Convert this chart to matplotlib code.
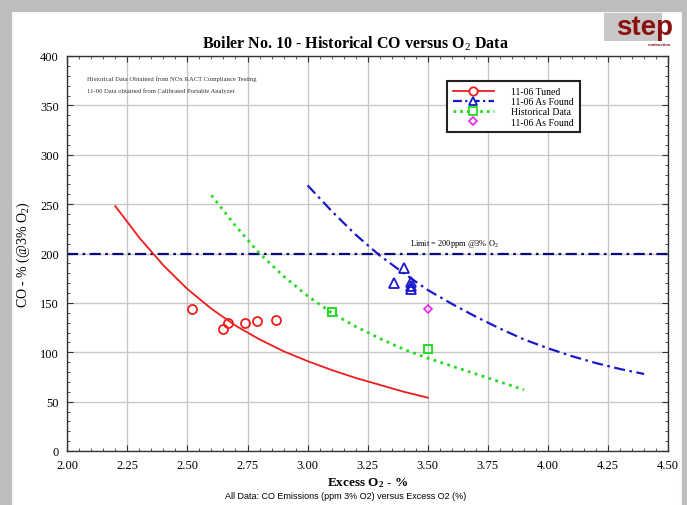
import numpy as np
import matplotlib.pyplot as plt
from matplotlib.patches import Rectangle
from matplotlib.ticker import MultipleLocator

# -----------------------------
# Data
# -----------------------------
tuned_x = [2.52, 2.65, 2.67, 2.74, 2.79, 2.87]
tuned_y = [144, 124, 130, 130, 132, 133]

tuned_fit_x = [2.2, 2.3, 2.4, 2.5, 2.6, 2.7, 2.8, 2.9, 3.0, 3.1, 3.2, 3.3, 3.4, 3.5]
tuned_fit_y = [248, 216, 188, 164, 144, 127, 113, 101, 91, 82, 74, 67, 60, 54]

found_x = [3.36, 3.40, 3.43, 3.43, 3.43]
found_y = [170, 185, 171, 167, 164]

found_fit_x = [3.0, 3.1, 3.2, 3.3, 3.4, 3.5, 3.6, 3.7, 3.8, 3.9, 4.0, 4.1, 4.2, 4.3, 4.4]
found_fit_y = [269, 243, 219, 198, 180, 163, 149, 136, 124, 113, 104, 96, 89, 83, 78]

hist_x = [3.10, 3.50]
hist_y = [141, 103]

hist_fit_x = [2.6, 2.7, 2.8, 2.9, 3.0, 3.1, 3.2, 3.3, 3.4, 3.5, 3.6, 3.7, 3.8, 3.9]
hist_fit_y = [259, 228, 200, 177, 157, 140, 126, 114, 103, 94, 86, 78, 70, 62]

found2_x = [3.50]
found2_y = [144]

LIMIT = 200

SERIF = 'Liberation Serif'

plt.rcParams['mathtext.fontset'] = 'custom'
plt.rcParams['mathtext.rm'] = SERIF
plt.rcParams['mathtext.it'] = SERIF + ':italic'
plt.rcParams['mathtext.bf'] = SERIF + ':bold'

# -----------------------------
# Figure + Schatten-Rahmen
# -----------------------------
fig = plt.figure(figsize=(6.87, 5.06), dpi=100)
fig.patch.set_facecolor('#bdbdbd')
W, H = 687.0, 506.0
for k, a in enumerate([0.25, 0.45, 0.65, 0.85]):
    d = 4 - k
    fig.patches.append(Rectangle(((11 + d) / W, 0), (672 - 2 * d) / W, (494 - d) / H,
                                 transform=fig.transFigure, facecolor='white',
                                 edgecolor='none', alpha=a, zorder=-2))
fig.patches.append(Rectangle((16 / W, 0), 662 / W, 489 / H, transform=fig.transFigure,
                             facecolor='white', edgecolor='none', zorder=-2))

ax = fig.add_axes([67.2 / W, 1 - 452 / H, 601 / W, 395 / H])
ax.set_zorder(1)
ax.set_facecolor('white')

# Kurven
ax.plot(tuned_fit_x, tuned_fit_y, color='#ee1c1c', lw=1.3, zorder=3)
ax.plot(found_fit_x, found_fit_y, color='#1a1acc', lw=1.6, zorder=3,
        dashes=(5, 2, 1.2, 2))
ax.plot(hist_fit_x, hist_fit_y, color='#22dd22', lw=2.0, zorder=3,
        linestyle=(0, (1, 1.6)))

# Messpunkte
ax.plot(tuned_x, tuned_y, 'o', mfc='none', mec='#ee1c1c', ms=6.5, mew=1.3, zorder=4)
ax.plot(found_x, found_y, '^', mfc='none', mec='#1a1acc', ms=6.5, mew=1.3, zorder=4)
ax.plot(hist_x, hist_y, 's', mfc='none', mec='#22dd22', ms=6, mew=1.4, zorder=4)
ax.plot(found2_x, found2_y, 'D', mfc='none', mec='#ee22ee', ms=4, mew=1.2, zorder=4)

# Limit
ax.axhline(LIMIT, color='#0a0a80', lw=1.6, dashes=(5, 2, 1.2, 2), zorder=2)
ax.text(3.61, LIMIT + 5, 'Limit = 200ppm @3% O$_2$', fontsize=6, family=SERIF,
        ha='center', va='bottom')

# Legende (Handles ohne Daten)
h1, = ax.plot([], [], color='#ee1c1c', lw=1.3, marker='o', mfc='white', mec='#ee1c1c',
              ms=6, mew=1.3)
h2, = ax.plot([], [], color='#1a1acc', lw=1.6, dashes=(4, 1.5, 1, 1.5), marker='^',
              mfc='white', mec='#1a1acc', ms=6, mew=1.3)
h3, = ax.plot([], [], color='#22dd22', lw=2.0, linestyle=(0, (1, 1.4)), marker='s',
              mfc='white', mec='#22dd22', ms=6, mew=1.3)
h4, = ax.plot([], [], linestyle='none', marker='D', mfc='white', mec='#ee22ee',
              ms=4, mew=1.2)
leg = ax.legend([h1, h2, h3, h4],
                ['11-06 Tuned', '11-06 As Found', 'Historical Data', '11-06 As Found'],
                loc='upper left', bbox_to_anchor=(0.632, 0.936), frameon=True,
                fancybox=False, prop={'family': SERIF, 'size': 7},
                handlelength=4.2, handletextpad=1.8, labelspacing=0.12,
                borderpad=0.6, borderaxespad=0, framealpha=1)
leg.get_frame().set_edgecolor('#222222')
leg.get_frame().set_linewidth(1.5)

# Notizen oben links
ax.text(0.033, 0.952, 'Historical Data Obtained from NOx RACT Compliance Testing',
        transform=ax.transAxes, fontsize=4.8, family=SERIF, color='#333333', va='top')
ax.text(0.033, 0.920, '11-06 Data obtained from Calibrated Portable Analyzer',
        transform=ax.transAxes, fontsize=4.8, family=SERIF, color='#333333', va='top')

# Achsen
ax.set_xlim(2.0, 4.5)
ax.set_ylim(0, 400)
ax.xaxis.set_major_locator(MultipleLocator(0.25))
ax.xaxis.set_minor_locator(MultipleLocator(0.05))
ax.yaxis.set_major_locator(MultipleLocator(50))
ax.yaxis.set_minor_locator(MultipleLocator(10))
ax.xaxis.set_major_formatter(plt.FuncFormatter(lambda v, p: f'{v:.2f}'))
ax.grid(True, which='major', color='#c8c8c8', lw=1.0, zorder=0)
ax.set_axisbelow(True)
ax.tick_params(which='both', direction='in', top=True, right=True, colors='#333333',
               labelsize=9, labelcolor='black')
ax.tick_params(which='major', length=4, width=0.8, pad=6)
ax.tick_params(which='minor', length=2, width=0.6)
for lab in ax.get_xticklabels() + ax.get_yticklabels():
    lab.set_family(SERIF)
for s in ax.spines.values():
    s.set_linewidth(1.0)
    s.set_color('#333333')

ax.set_title('Boiler No. 10 - Historical CO versus O$_2$ Data', family=SERIF,
             fontsize=11.5, fontweight='bold', pad=6, x=0.48)
ax.set_xlabel(r'Excess O$_\mathbf{2}$ - %', family=SERIF, fontsize=9.5,
              fontweight='bold', labelpad=3)
ax.set_ylabel('CO - % (@3% O$_2$)', family=SERIF, fontsize=10, labelpad=6)

fig.text(0.503, 1 - 497 / H, 'All Data: CO Emissions (ppm 3% O2) versus Excess O2 (%)',
         family='Liberation Sans', fontsize=6.5, ha='center', va='center')

# Logo
fig.patches.append(Rectangle((604 / W, 1 - 42 / H), 58 / W, 28 / H,
                             transform=fig.transFigure, facecolor='#c8c8c8',
                             edgecolor='none', zorder=-1))
fig.text(645 / W, 1 - 28 / H, 'step', family='Liberation Sans', fontsize=20,
         fontweight='bold', color='#8b1010', ha='center', va='center', zorder=2)
fig.text(660 / W, 1 - 45 / H, 'combustion', family='Liberation Sans', fontsize=3,
         fontweight='bold', color='#8b1010', ha='center', va='center', zorder=2)

fig.savefig('out.png', dpi=100, facecolor=fig.get_facecolor())
